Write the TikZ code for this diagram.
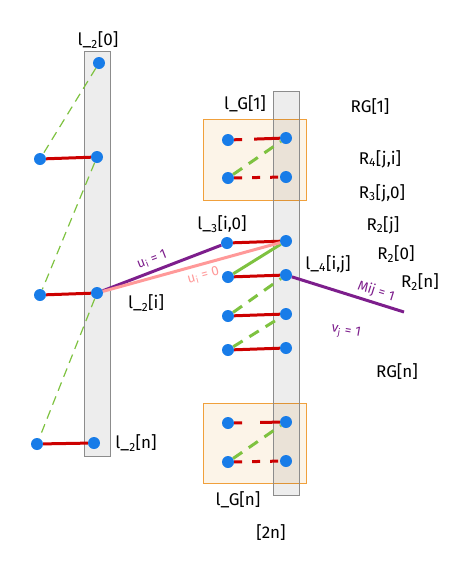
\documentclass[tikz,border=0pt]{standalone}
\usepackage{fontspec}
\setmainfont{Fira Sans}
\usetikzlibrary{arrows}
\definecolor{dotblue}{RGB}{24,124,232}
\definecolor{edgered}{RGB}{204,0,0}
\definecolor{edgegreen}{RGB}{126,194,64}
\definecolor{edgepurple}{RGB}{125,30,140}
\definecolor{edgepink}{RGB}{255,153,153}
\definecolor{boxorange}{RGB}{240,160,60}
\definecolor{boxfill}{RGB}{252,244,232}
\newcommand{\sub}[1]{\textsubscript{#1}}

\begin{document}
\begin{tikzpicture}[x=1pt, y=-1pt, font=\fontsize{17}{19}\selectfont,
		dot/.style={circle, fill=dotblue, inner sep=0pt, minimum size=12pt},
		redline/.style={draw=edgered, line width=3pt},
		reddash/.style={draw=edgered, line width=3pt, dash pattern={on 8pt off 10pt}},
		greenline/.style={draw=edgegreen, line width=3pt},
		greendash/.style={draw=edgegreen, line width=3pt, dash pattern={on 11pt off 8pt}},
		thindash/.style={draw=edgegreen, line width=1.2pt, dash pattern={on 9pt off 6pt}},
		purpleline/.style={draw=edgepurple, line width=3pt},
		pinkline/.style={draw=edgepink, line width=3pt},
		slab/.style={draw=black!45, line width=1pt, fill=black, fill opacity=0.07},
		gadget/.style={draw=boxorange, line width=1pt, fill=boxfill},
		note/.style={text=edgepurple, inner sep=1pt, font=\fontsize{13.5}{15}\selectfont}]
			\useasboundingbox (0,0) rectangle (469,566);
			% gadget boxes and the two columns
			\draw[gadget] (203,119) rectangle (306,200);
			\draw[gadget] (203,403) rectangle (306,483);
			\draw[slab] (84,51) rectangle (110,456);
			\draw[slab] (273,91) rectangle (299,495);
			% left column
			\node[dot] (a0) at (99,63) {};
			\node[dot] (a1) at (97,157) {};
			\node[dot] (ai) at (97,293) {};
			\node[dot] (an) at (94,443) {};
			\node[dot] (b1) at (40,159) {};
			\node[dot] (bi) at (40,295) {};
			\node[dot] (bn) at (37,444) {};
			\draw[redline] (b1) to (a1);
			\draw[redline] (bi) to (ai);
			\draw[redline] (bn) to (an);
			\draw[thindash] (a0) to (b1);
			\draw[thindash] (a1) to (bi);
			\draw[thindash] (ai) to (bn);
			% top gadget
			\node[dot] (g1a) at (228,140) {};
			\node[dot] (g1b) at (228,178) {};
			\node[dot] (h1a) at (286,138) {};
			\node[dot] (h1b) at (286,177) {};
			\draw[redline, dash pattern={on 8pt off 12pt on 60pt off 1pt}] (g1a) to (h1a);
			\draw[reddash] (g1b) to (h1b);
			\draw[greendash] (g1b) to (h1a);
			% middle part
			\node[dot] (c1) at (227,243) {};
			\node[dot] (c2) at (228,277) {};
			\node[dot] (c3) at (228,316) {};
			\node[dot] (c4) at (228,350) {};
			\node[dot] (d1) at (286,241) {};
			\node[dot] (d2) at (286,275) {};
			\node[dot] (d3) at (286,314) {};
			\node[dot] (d4) at (286,348) {};
			\draw[redline] (c1) to (d1);
			\draw[redline] (c2) to (d2);
			\draw[redline] (c3) to (d3);
			\draw[redline] (c4) to (d4);
			\draw[greenline] (c2) to (d1);
			\draw[greendash] (c3) to (d2);
			\draw[greendash] (c4) to (d3);
			% bottom gadget
			\node[dot] (gna) at (228,423) {};
			\node[dot] (gnb) at (228,462) {};
			\node[dot] (hna) at (286,422) {};
			\node[dot] (hnb) at (286,461) {};
			\draw[redline, dash pattern={on 8pt off 18pt on 60pt off 1pt}] (gna) to (hna);
			\draw[reddash] (gnb) to (hnb);
			\draw[greendash] (gnb) to (hna);
			% long edges
			\coordinate (mend) at (404,312);
			\draw[purpleline] (ai) to node[note, sloped, above=3pt, pos=0.45] {u\sub{i} = 1} (c1);
			\draw[pinkline] (ai) to node[note, text=edgepink, sloped, below=3pt, pos=0.55] {u\sub{i} = 0} (d1);
			\draw[purpleline] (d2) to node[note, sloped, above=2pt, pos=0.72] {Mij = 1} (mend);
			\node[note, rotate=-10] (vj) at (346,332) {v\sub{j} = 1};
			% labels
			\node (l20) at (98,40) {l\_\sub{2}[0]};
			\node (l2i) at (146,303) {l\_\sub{2}[i]};
			\node (l2n) at (136,443) {l\_\sub{2}[n]};
			\node (lg1) at (245,104) {l\_G[1]};
			\node (lgn) at (238,500) {l\_G[n]};
			\node (l3) at (222,224) {l\_\sub{3}[i,0]};
			\node (l4) at (328,264) {l\_\sub{4}[i,j]};
			\node (two) at (271,533) {[2n]};
			\node (rg1) at (370,107) {RG[1]};
			\node (r4) at (380,159) {R\sub{4}[j,i]};
			\node (r3) at (382,193) {R\sub{3}[j,0]};
			\node (r2j) at (383,225) {R\sub{2}[j]};
			\node (r20) at (396,254) {R\sub{2}[0]};
			\node (r2n) at (420,282) {R\sub{2}[n]};
			\node (rgn) at (397,372) {RG[n]};
		\end{tikzpicture}
\end{document}
